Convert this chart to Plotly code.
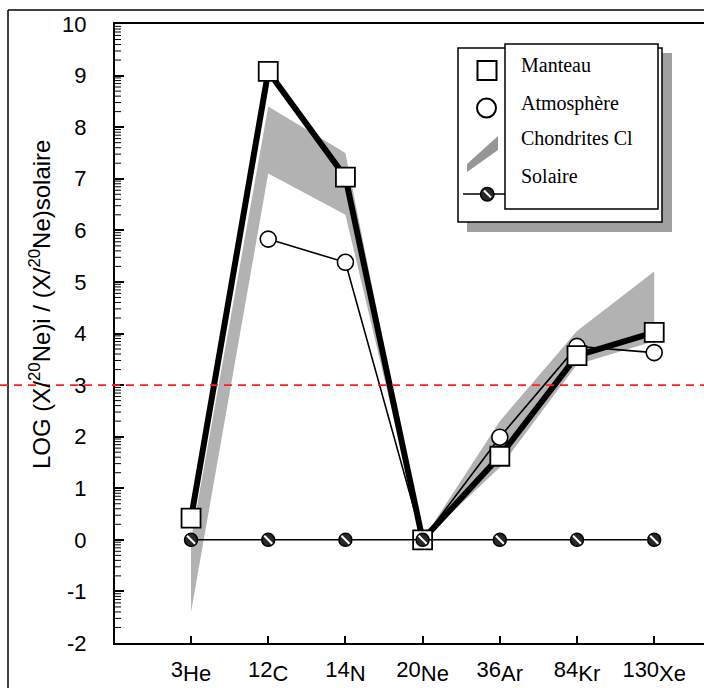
import numpy as np
import plotly.graph_objects as go

# ---------------- data ----------------
categories = ["3He", "12C", "14N", "20Ne", "36Ar", "84Kr", "130Xe"]
tick_mass = ["3", "12", "14", "20", "36", "84", "130"]
tick_elem = ["He", "C", "N", "Ne", "Ar", "Kr", "Xe"]

manteau = [0.42, 9.08, 7.03, 0.0, 1.62, 3.57, 4.02]
atmosphere = [None, 5.83, 5.38, 0.0, 1.99, 3.75, 3.63]
chondrites_low = [-1.4, 7.1, 6.3, 0.0, 1.4, 3.4, 3.85]
chondrites_high = [0.0, 8.4, 7.5, 0.0, 2.3, 4.05, 5.2]
solaire = [0.0, 0.0, 0.0, 0.0, 0.0, 0.0, 0.0]
ref_line = 3.0

y_ticks = list(range(-2, 11))
legend_labels = ["Manteau", "Atmosphère", "Chondrites Cl", "Solaire"]

# ---------------- layout geometry ----------------
W, H = 704, 688
L, R, T, B = 115, 0, 24, 45
PW, PH = W - L - R, H - T - B


def px(x):
    return (x - L) / PW


def py(y):
    return (H - B - y) / PH


xs = list(range(len(categories)))
TICKFONT = "Liberation Sans, Arial, sans-serif"
SERIF = "Liberation Serif, Times New Roman, serif"
HIDE = "<span style='color:rgba(0,0,0,0)'>{}</span>"
YRANGE = [-2, 10]

fig = go.Figure()

# chondrites band
fig.add_trace(go.Scatter(x=xs, y=chondrites_low, mode="lines",
                         line=dict(width=0, color="rgba(0,0,0,0)"),
                         hoverinfo="skip", showlegend=False))
fig.add_trace(go.Scatter(x=xs, y=chondrites_high, mode="lines",
                         line=dict(width=0, color="rgba(0,0,0,0)"),
                         fill="tonexty", fillcolor="rgb(178,178,178)",
                         name="Chondrites Cl", showlegend=False))

# atmosphere
fig.add_trace(go.Scatter(x=xs, y=atmosphere, mode="lines+markers",
                         line=dict(color="black", width=1.6),
                         marker=dict(symbol="circle", size=16, color="white",
                                     line=dict(color="black", width=1.6)),
                         name="Atmosphère", showlegend=False))

# manteau
fig.add_trace(go.Scatter(x=xs, y=manteau, mode="lines+markers",
                         line=dict(color="black", width=6),
                         marker=dict(symbol="square", size=19, color="white",
                                     line=dict(color="black", width=1.8)),
                         name="Manteau", showlegend=False))

# solaire
fig.add_trace(go.Scatter(x=xs, y=solaire, mode="lines+markers",
                         line=dict(color="black", width=1.5),
                         marker=dict(symbol="circle", size=13, color="rgb(40,40,40)",
                                     line=dict(color="black", width=1.5)),
                         name="Solaire", showlegend=False))
fig.add_trace(go.Scatter(x=xs, y=solaire, mode="markers",
                         marker=dict(symbol="line-nw", size=8,
                                     line=dict(color="white", width=2)),
                         hoverinfo="skip", showlegend=False))

# invisible trace on the overlay axis (mass numbers)
fig.add_trace(go.Scatter(x=xs, y=solaire, xaxis="x2", mode="markers",
                         marker=dict(opacity=0), hoverinfo="skip", showlegend=False))

# ---------------- axes ----------------
elem_text = [HIDE.format(m) + e for m, e in zip(tick_mass, tick_elem)]
mass_text = [m + HIDE.format(e) for m, e in zip(tick_mass, tick_elem)]
minor_vals = [float(n + np.log10(k)) for n in range(-2, 10) for k in range(2, 10)]

xrange_ = [-0.985, 6.645]
fig.update_layout(
    xaxis=dict(range=xrange_, showline=True, linecolor="black",
               linewidth=1.5, mirror=True, ticks="inside", ticklen=7,
               tickwidth=1.5, tickcolor="black", tickmode="array",
               tickvals=xs, ticktext=elem_text,
               tickfont=dict(family=TICKFONT, size=22, color="black"),
               ticklabelstandoff=10, showgrid=False, zeroline=False,
               automargin=False),
    xaxis2=dict(range=xrange_, overlaying="x", side="bottom", anchor="y",
                showline=False, ticks="", tickmode="array",
                tickvals=xs, ticktext=mass_text,
                tickfont=dict(family=TICKFONT, size=22, color="black"),
                ticklabelstandoff=11, showgrid=False, zeroline=False,
                automargin=False),
    yaxis=dict(range=YRANGE, showline=True, linecolor="black", linewidth=2,
               ticks="inside", ticklen=9, tickwidth=2, tickcolor="black",
               tickmode="array", tickvals=y_ticks,
               ticktext=[str(v) for v in y_ticks],
               tickfont=dict(family=TICKFONT, size=22, color="black"),
               ticklabelstandoff=22, showgrid=False, zeroline=False,
               automargin=False),
)

shapes = []
# minor (logarithmic) ticks of the y axis
for v in minor_vals:
    shapes.append(dict(type="line", xref="paper", yref="y", x0=0, x1=6 / PW,
                       y0=v, y1=v, layer="above",
                       line=dict(color="black", width=1)))
# outer frame (left and top)
shapes.append(dict(type="line", xref="paper", yref="paper", x0=px(8), x1=px(8),
                   y0=py(10), y1=py(700), line=dict(color="black", width=1.5)))
shapes.append(dict(type="line", xref="paper", yref="paper", x0=px(8), x1=px(710),
                   y0=py(10), y1=py(10), line=dict(color="black", width=1.5)))
# red reference line
shapes.append(dict(type="line", xref="paper", yref="y", x0=px(0), x1=px(704),
                   y0=ref_line, y1=ref_line, layer="above",
                   line=dict(color="rgb(255,30,30)", width=1.6, dash="8px,6px")))

# legend box with shadow
shapes.append(dict(type="rect", xref="paper", yref="paper", x0=px(467), x1=px(672),
                   y0=py(53), y1=py(232), layer="above",
                   fillcolor="rgb(160,160,160)", line=dict(width=0)))
shapes.append(dict(type="rect", xref="paper", yref="paper", x0=px(458), x1=px(662),
                   y0=py(48), y1=py(222), layer="above",
                   fillcolor="white", line=dict(color="black", width=1.5)))
shapes.append(dict(type="rect", xref="paper", yref="paper", x0=px(505), x1=px(658),
                   y0=py(44), y1=py(209), layer="above",
                   fillcolor="white", line=dict(color="black", width=1.5)))
# legend symbols
shapes.append(dict(type="rect", xref="paper", yref="paper", x0=px(477.5), x1=px(496.5),
                   y0=py(61), y1=py(80), layer="above",
                   fillcolor="white", line=dict(color="black", width=2)))
shapes.append(dict(type="circle", xref="paper", yref="paper", x0=px(477), x1=px(496),
                   y0=py(98.5), y1=py(117.5), layer="above",
                   fillcolor="white", line=dict(color="black", width=2)))
wedge = (f"M {px(467)} {py(172)} L {px(467)} {py(164)} L {px(498)} {py(136)} "
         f"L {px(498)} {py(150)} Z")
shapes.append(dict(type="path", xref="paper", yref="paper", path=wedge, layer="above",
                   fillcolor="rgb(150,150,150)", line=dict(width=0)))
shapes.append(dict(type="line", xref="paper", yref="paper", x0=px(463), x1=px(505),
                   y0=py(194), y1=py(194), layer="above",
                   line=dict(color="black", width=1.5)))
shapes.append(dict(type="circle", xref="paper", yref="paper", x0=px(480.5), x1=px(494),
                   y0=py(187.5), y1=py(201), layer="above",
                   fillcolor="rgb(40,40,40)", line=dict(color="black", width=1.5)))
shapes.append(dict(type="line", xref="paper", yref="paper", x0=px(484), x1=px(491),
                   y0=py(190.5), y1=py(197.5), layer="above",
                   line=dict(color="white", width=2)))

annotations = []
for lbl, ymid in zip(legend_labels, [64.5, 103, 138, 175.5]):
    annotations.append(dict(text=lbl, xref="paper", yref="paper", x=px(519), y=py(ymid),
                            xanchor="left", yanchor="middle", showarrow=False,
                            font=dict(family=SERIF, size=20, color="black")))
annotations.append(dict(
    text="LOG (X/<sup>20</sup>Ne)i / (X/<sup>20</sup>Ne)solaire",
    xref="paper", yref="paper", x=px(40), y=py(305), textangle=-90,
    xanchor="center", yanchor="middle", showarrow=False,
    font=dict(family=TICKFONT, size=24, color="black")))

fig.update_layout(width=W, height=H, margin=dict(l=L, r=R, t=T, b=B, autoexpand=False),
                  paper_bgcolor="white", plot_bgcolor="white",
                  showlegend=False, shapes=shapes, annotations=annotations)

fig.write_html("out.html", config={"displayModeBar": False},
               post_script="document.body.style.margin='0px';")
